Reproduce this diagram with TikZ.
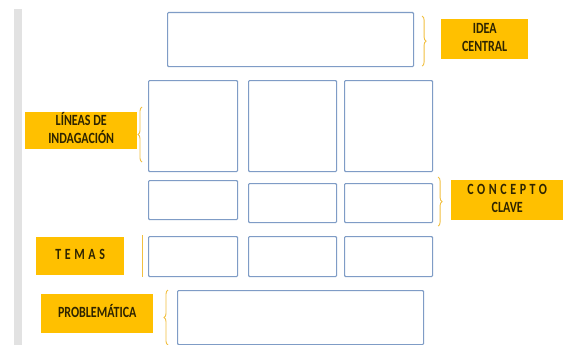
\documentclass[tikz,border=0pt]{standalone}
\usepackage{fontspec}
\setmainfont{Carlito}
\newfontfamily\widefont[LetterSpace=30]{Carlito}
\usepackage{xcolor}
\usetikzlibrary{calc,decorations.pathreplacing}
\definecolor{cellblue}{HTML}{7F9CC6}
\definecolor{tagyellow}{HTML}{FFC000}
\definecolor{tagink}{HTML}{2E2400}
\definecolor{bracey}{HTML}{F2C040}
\definecolor{edgegray}{HTML}{E2E2E2}
% label text, a little taller than wide as in the reference
\newcommand{\tagline}[1]{\scalebox{1}[1.3]{\begin{tabular}{@{}c@{}}#1\end{tabular}}}

\begin{document}
\begin{tikzpicture}[x=1pt, y=-1pt,
  cell/.style={draw=cellblue, line width=1.1pt, rounded corners=1pt, inner sep=0pt, anchor=north west},
  tag/.style={fill=tagyellow, text=tagink, font=\fontsize{12}{13.8}\selectfont\bfseries, align=center, inner sep=0pt, anchor=north west},
  brk/.style={draw=bracey, line width=0.9pt, decorate, decoration={brace, amplitude=4pt}}]
\useasboundingbox[fill=white] (0,0) rectangle (567,345);
% page edge on the left
\fill[edgegray] (14,9) rectangle (22,345);

% boxes
\node[cell, minimum width=246pt, minimum height=54pt] (idea) at (167,12) {};
\node[cell, minimum width=89pt, minimum height=91pt] (lin1) at (148,80) {};
\node[cell, minimum width=88pt, minimum height=91pt] (lin2) at (248,80) {};
\node[cell, minimum width=88pt, minimum height=91pt] (lin3) at (344,80) {};
\node[cell, minimum width=89pt, minimum height=39pt] (con1) at (148,180) {};
\node[cell, minimum width=88pt, minimum height=39pt] (con2) at (248,183) {};
\node[cell, minimum width=88pt, minimum height=39pt] (con3) at (344,183) {};
\node[cell, minimum width=89pt, minimum height=40pt] (tem1) at (148,236) {};
\node[cell, minimum width=88pt, minimum height=40pt] (tem2) at (248,236) {};
\node[cell, minimum width=88pt, minimum height=40pt] (tem3) at (344,236) {};
\node[cell, minimum width=246pt, minimum height=54pt] (prob) at (177,290) {};

% labels
\node[tag, minimum width=87pt, minimum height=40pt] (ideatag) at (441,19) {\tagline{IDEA\\CENTRAL}};
\node[tag, minimum width=112pt, minimum height=37pt] (lintag) at (25,112) {\tagline{LÍNEAS DE\\INDAGACIÓN}};
\node[tag, minimum width=112pt, minimum height=40pt] (contag) at (451,180) {\tagline{\widefont CONCEPTO\hspace{-3.6pt}\\CLAVE}};
\node[tag, minimum width=88pt, minimum height=38pt] (temtag) at (36,237) {\tagline{\widefont TEMAS\hspace{-3.6pt}}};
\node[tag, minimum width=112pt, minimum height=39pt] (protag) at (41,294) {\tagline{PROBLEMÁTICA}};

% brackets
\draw[brk] ($(idea.north east)+(8,4)$) -- ($(idea.south east)+(8,-1)$);
\draw[brk] ($(lin1.south west)+(-6,-10)$) -- ($(lin1.north west)+(-6,27)$);
\draw[brk] ($(con3.north east)+(5,-6)$) -- ($(con3.south east)+(5,3)$);
\draw[draw=bracey, line width=0.9pt] ($(tem1.north west)+(-6,-1)$) -- ($(tem1.south west)+(-6,0)$);
\draw[brk] ($(prob.south west)+(-9,0)$) -- ($(prob.north west)+(-9,0)$);
\end{tikzpicture}
\end{document}
